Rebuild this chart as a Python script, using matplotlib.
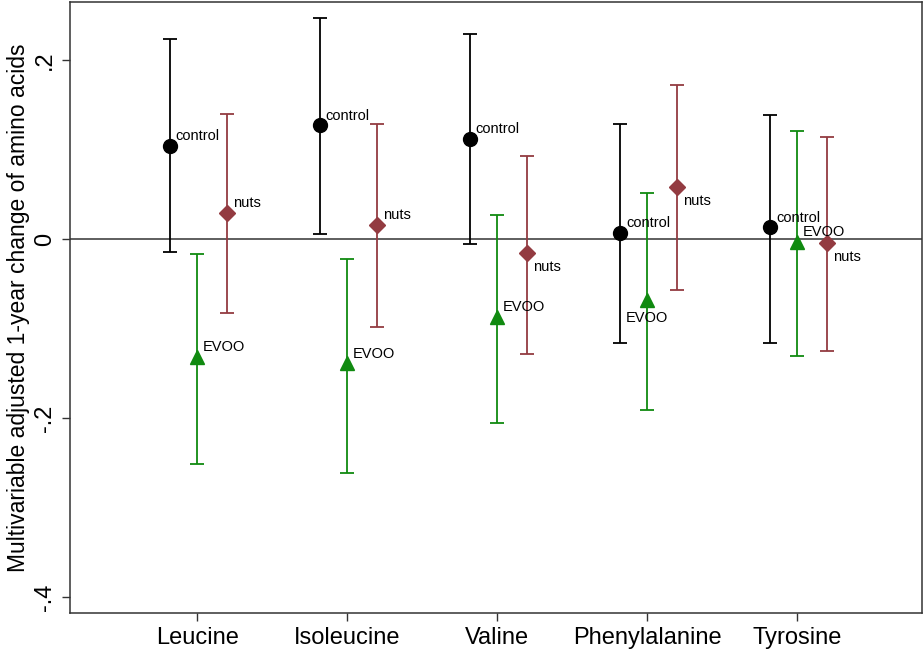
import matplotlib
matplotlib.use("Agg")
import matplotlib.pyplot as plt
import numpy as np

plt.rcParams['font.family'] = ['Liberation Sans', 'DejaVu Sans']

amino_acids = ['Leucine', 'Isoleucine', 'Valine', 'Phenylalanine', 'Tyrosine']
groups = ['control', 'EVOO', 'nuts']

# point estimates and 95% CI
est = {
    'control': [0.104, 0.127, 0.112, 0.007, 0.013],
    'EVOO':    [-0.132, -0.139, -0.087, -0.068, -0.003],
    'nuts':    [0.029, 0.016, -0.016, 0.058, -0.005],
}
lo = {
    'control': [-0.015, 0.006, -0.006, -0.116, -0.116],
    'EVOO':    [-0.252, -0.261, -0.206, -0.191, -0.131],
    'nuts':    [-0.083, -0.098, -0.128, -0.057, -0.125],
}
hi = {
    'control': [0.223, 0.247, 0.229, 0.128, 0.139],
    'EVOO':    [-0.017, -0.022, 0.027, 0.051, 0.121],
    'nuts':    [0.140, 0.128, 0.093, 0.172, 0.114],
}
# where each marker label sits (clock position, Stata style)
label_pos = {
    'control': [2, 2, 2, 2, 2],
    'EVOO':    [2, 2, 2, 6, 2],
    'nuts':    [2, 2, 4, 4, 4],
}

colors = {'control': 'black', 'EVOO': '#108a10', 'nuts': '#933b41'}
markers = {'control': 'o', 'EVOO': '^', 'nuts': 'D'}
msizes = {'control': 10, 'EVOO': 10, 'nuts': 8.5}
offsets = {'control': -0.18, 'EVOO': 0.0, 'nuts': 0.2}

clock = {
    2: dict(xytext=(4, 2), ha='left', va='bottom'),
    4: dict(xytext=(4, -5), ha='left', va='top'),
    6: dict(xytext=(0, -8), ha='center', va='top'),
}

fig = plt.figure(figsize=(9.24, 6.55), dpi=100)
ax = fig.add_axes([0.0758, 0.0641, 0.922, 0.933])

x = np.arange(1, len(amino_acids) + 1)
ax.axhline(0, color='#333333', lw=1.1, zorder=1)

for g in groups:
    xs = x + offsets[g]
    y = np.array(est[g])
    yerr = [y - np.array(lo[g]), np.array(hi[g]) - y]
    ax.errorbar(xs, y, yerr=yerr, fmt='none', ecolor=colors[g], elinewidth=1.3,
                capsize=5, capthick=1.3, zorder=2)
    ax.plot(xs, y, linestyle='none', marker=markers[g], color=colors[g],
            markersize=msizes[g], zorder=3)
    for xi, yi, p in zip(xs, y, label_pos[g]):
        ax.annotate(g, (xi, yi), textcoords='offset points', fontsize=10.5,
                    color='black', zorder=4, **clock[p])

ax.set_xlim(0.153, 5.83)
ax.set_ylim(-0.418, 0.265)
ax.set_xticks(x)
ax.set_xticklabels(amino_acids, fontsize=17)
ax.set_yticks([-0.4, -0.2, 0, 0.2])
ax.set_yticklabels(['-.4', '-.2', '0', '.2'], rotation=90, va='center', fontsize=17)
ax.set_ylabel('Multivariable adjusted 1-year change of amino acids', fontsize=16.5, labelpad=3)
ax.tick_params(axis='both', length=6, width=1, color='#333333', pad=4)
for s in ax.spines.values():
    s.set_color('#333333')
    s.set_linewidth(1.1)

fig.savefig('out.png', dpi=100, facecolor='white')
